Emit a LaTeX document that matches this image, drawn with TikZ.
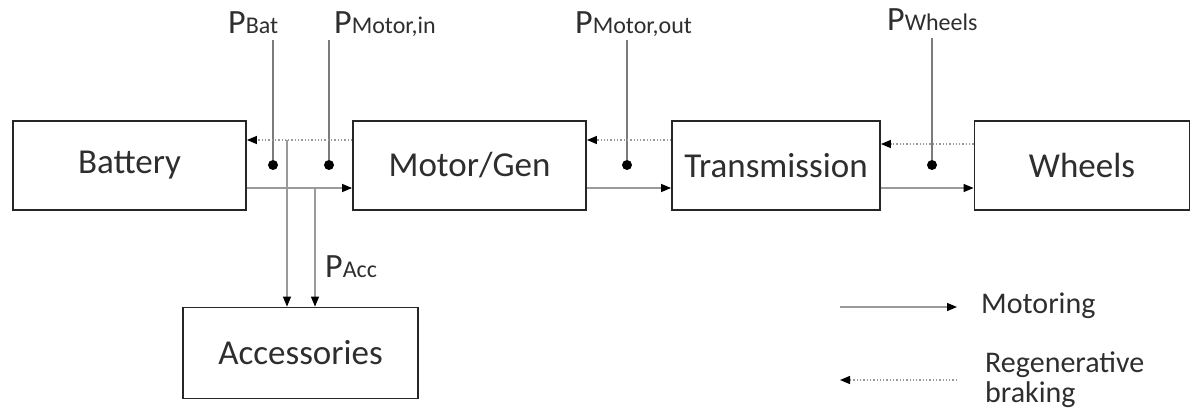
\documentclass[tikz,border=0pt]{standalone}
\usepackage{fontspec}
\setmainfont{Carlito}
\usetikzlibrary{arrows.meta}
\definecolor{txt}{HTML}{2E2E2E}
\definecolor{ln}{HTML}{9A9A9A}
\begin{document}
\begin{tikzpicture}[x=1pt,y=-1pt,
  blk/.style={draw=black!85,line width=1.8pt,rectangle,minimum height=89pt,text=txt,font=\fontsize{35}{38}\selectfont,inner sep=0pt},
  lbl/.style={text=txt,inner sep=0pt,anchor=base west},
  dotn/.style={circle,fill=black,inner sep=0pt,minimum size=10pt},
  tip/.style={-{Triangle[length=10pt,width=8pt,color=black]}},
  mot/.style={tip,draw=ln,line width=1.3pt},
  reg/.style={tip,draw=ln,line width=1.3pt,dotted},
  pl/.style={draw=ln!80!black,line width=1.1pt},
  leg/.style={text=txt,inner sep=0pt,anchor=base west,font=\fontsize{30}{34}\selectfont}]
\useasboundingbox (0,0) rectangle (1192,408);
\newcommand{\plab}[1]{{\fontsize{34}{36}\selectfont P}{\fontsize{24}{26}\selectfont #1}}
% boxes
\node[blk,minimum width=233pt] (bat) at (129.5,165.5) {Battery};
\node[blk,minimum width=233pt] (mg) at (469.5,165.5) {Motor/Gen};
\node[blk,minimum width=208pt] (tr) at (776,165.5) {Transmission};
\node[blk,minimum width=215pt] (wh) at (1082,165.5) {Wheels};
\node[blk,minimum width=235pt,minimum height=91pt] (acc) at (300.5,353) {Accessories};
% dots
\node[dotn] (d1) at (273,165) {};
\node[dotn] (d2) at (329,165) {};
\node[dotn] (d3) at (627,165) {};
\node[dotn] (d4) at (932,165) {};
% labels
\node[lbl] (lbat) at (228,33) {\plab{Bat}};
\node[lbl] (lmin) at (334,33) {\plab{Motor,in}};
\node[lbl] (lmout) at (575,33) {\plab{Motor,out}};
\node[lbl] (lwh) at (887,30) {\plab{Wheels}};
\node[lbl] (lacc) at (325,277) {\plab{Acc}};
% label leader lines
\coordinate (t1) at (273,40);
\coordinate (t2) at (329,40);
\coordinate (t3) at (627,40);
\coordinate (t4) at (932,38);
\draw[pl] (t1) -- (d1);
\draw[pl] (t2) -- (d2);
\draw[pl] (t3) -- (d3);
\draw[pl] (t4) -- (d4);
% regenerative (upper) lines
\draw[reg] (mg.west |- 0,140) -- (bat.east |- 0,140);
\draw[reg] (tr.west |- 0,140) -- (mg.east |- 0,140);
\draw[reg] (wh.west |- 0,144) -- (tr.east |- 0,144);
% motoring (lower) lines
\draw[mot] (bat.east |- 0,188) -- (mg.west |- 0,188);
\draw[mot] (mg.east |- 0,188) -- (tr.west |- 0,188);
\draw[mot] (tr.east |- 0,188) -- (wh.west |- 0,188);
% accessories branches
\coordinate (a1) at (287,140);
\coordinate (a2) at (315,188);
\draw[mot] (a1) -- (acc.north -| a1);
\draw[mot] (a2) -- (acc.north -| a2);
% legend
\coordinate (m1) at (840,307);
\coordinate (m2) at (957,307);
\coordinate (r1) at (957,380);
\coordinate (r2) at (840,380);
\draw[mot] (m1) -- (m2);
\draw[reg] (r1) -- (r2);
\node[leg] (lm) at (981,313) {Motoring};
\node[leg] (lr1) at (985,372) {Regenerative};
\node[leg] (lr2) at (985,402) {braking};
\end{tikzpicture}
\end{document}
